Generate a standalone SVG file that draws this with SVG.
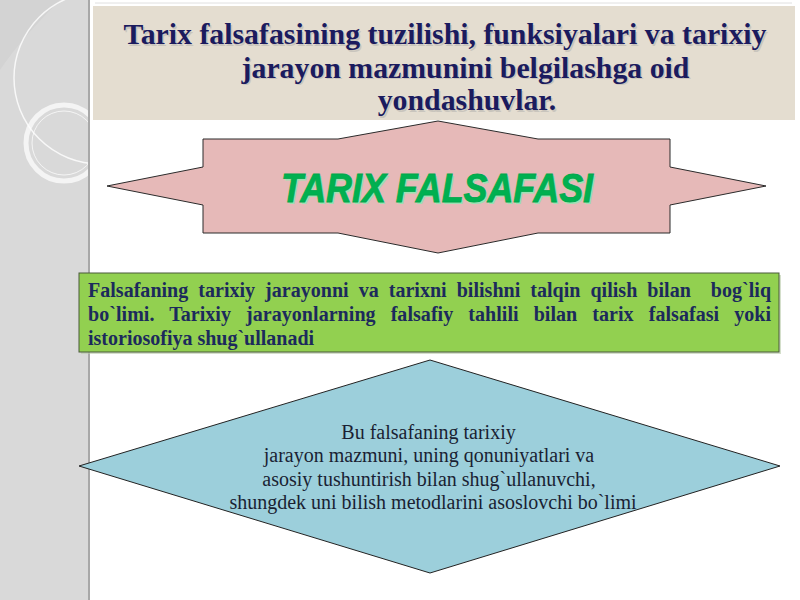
<svg xmlns="http://www.w3.org/2000/svg" width="800" height="600" viewBox="0 0 800 600">
  <defs>
    <style>
      .title { font-family: "Liberation Serif", "Times New Roman", serif; font-weight: bold; font-size: 29.8px; fill: #1b1b5e; text-anchor: middle; }
      .title-sh { font-family: "Liberation Serif", "Times New Roman", serif; font-weight: bold; font-size: 29.8px; fill: #9a9a9a; opacity: 0.35; text-anchor: middle; }
      .green-t { font-family: "Liberation Serif", "Times New Roman", serif; font-weight: bold; font-size: 20px; fill: #1c2a5c; }
      .dia-t { font-family: "Liberation Serif", "Times New Roman", serif; font-size: 20px; fill: #1a1f33; text-anchor: middle; }
      .big { font-family: "Liberation Sans", Arial, sans-serif; font-weight: bold; font-style: italic; font-size: 40px; text-anchor: middle; }
      .deco { fill: none; stroke: #ffffff; }
    </style>
  </defs>

  <rect x="0" y="0" width="800" height="600" fill="#ffffff"/>

  <!-- left decorative panel -->
  <g id="side-panel">
    <rect x="0" y="0" width="89" height="600" fill="#d9d9d9"/>
    <path d="M0,0 L60,0 Q20,40 0,70 Z" fill="#cfcfcf" opacity="0.6"/>
    <circle cx="100" cy="78" r="86" class="deco" stroke-width="1.5" opacity="0.8"/>
    <circle cx="64" cy="143" r="38" class="deco" stroke-width="5" opacity="0.7"/>
    <circle cx="64" cy="143" r="32" class="deco" stroke-width="1" opacity="0.7"/>
    <line x1="89" y1="0" x2="89" y2="600" stroke="#a8a8a8" stroke-width="2"/>
  </g>

  <!-- title -->
  <g id="title">
    <line x1="95" y1="3" x2="792" y2="3" stroke="#e0e0e0" stroke-width="1"/>
    <rect x="93" y="6" width="702" height="114" fill="#e4ddd0"/>
    <text class="title-sh" x="446.5" y="45.5">Tarix falsafasining tuzilishi, funksiyalari va tarixiy</text>
    <text class="title-sh" x="467" y="79">jarayon mazmunini belgilashga oid</text>
    <text class="title-sh" x="468.5" y="111.5">yondashuvlar.</text>
    <text class="title" x="445" y="44">Tarix falsafasining tuzilishi, funksiyalari va tarixiy</text>
    <text class="title" x="465.5" y="77.5">jarayon mazmunini belgilashga oid</text>
    <text class="title" x="467" y="110">yondashuvlar.</text>
  </g>

  <!-- connectors (none shown) -->
  <g id="connectors"></g>

  <!-- pink star shape -->
  <g id="tarix-falsafasi">
    <polygon points="203,139 338,139 438,121 538,139 670,139 670,167 766,186 670,205 670,233 538,233 438,253 338,233 203,233 203,205 107,186 203,167"
             fill="#e6b9b8" stroke="#2b2b2b" stroke-width="1"/>
    <text class="big" x="438.5" y="203.5" fill="#9fe0b4" textLength="312" lengthAdjust="spacingAndGlyphs">TARIX FALSAFASI</text>
    <text class="big" x="437" y="202" fill="#00b050" stroke="#00a84c" stroke-width="0.8" textLength="312" lengthAdjust="spacingAndGlyphs">TARIX FALSAFASI</text>
  </g>

  <!-- green definition box -->
  <g id="definition">
    <rect x="81" y="275" width="700" height="79" fill="#b8c9a8" opacity="0.6"/>
    <rect x="79" y="273" width="700" height="79" fill="#92d050" stroke="#4a5a3a" stroke-width="1"/>
    <text class="green-t" x="88" y="297" word-spacing="5" textLength="683" lengthAdjust="spacing" xml:space="preserve">Falsafaning tarixiy jarayonni va tarixni bilishni talqin qilish bilan  bog`liq</text>
    <text class="green-t" x="88" y="321" word-spacing="10" textLength="683" lengthAdjust="spacing">bo`limi. Tarixiy jarayonlarning falsafiy tahlili bilan tarix falsafasi yoki</text>
    <text class="green-t" x="88" y="345">istoriosofiya shug`ullanadi</text>
  </g>

  <!-- blue diamond -->
  <g id="diamond">
    <polygon points="430,360 780,466 430,573 79,466" fill="#9ccfdb" stroke="#222222" stroke-width="1"/>
    <text class="dia-t" x="428.5" y="439">Bu falsafaning tarixiy</text>
    <text class="dia-t" x="429" y="462">jarayon mazmuni, uning qonuniyatlari va</text>
    <text class="dia-t" x="429" y="485.5">asosiy tushuntirish bilan shug`ullanuvchi,</text>
    <text class="dia-t" x="433" y="508.5">shungdek uni bilish metodlarini asoslovchi bo`limi</text>
  </g>
</svg>
